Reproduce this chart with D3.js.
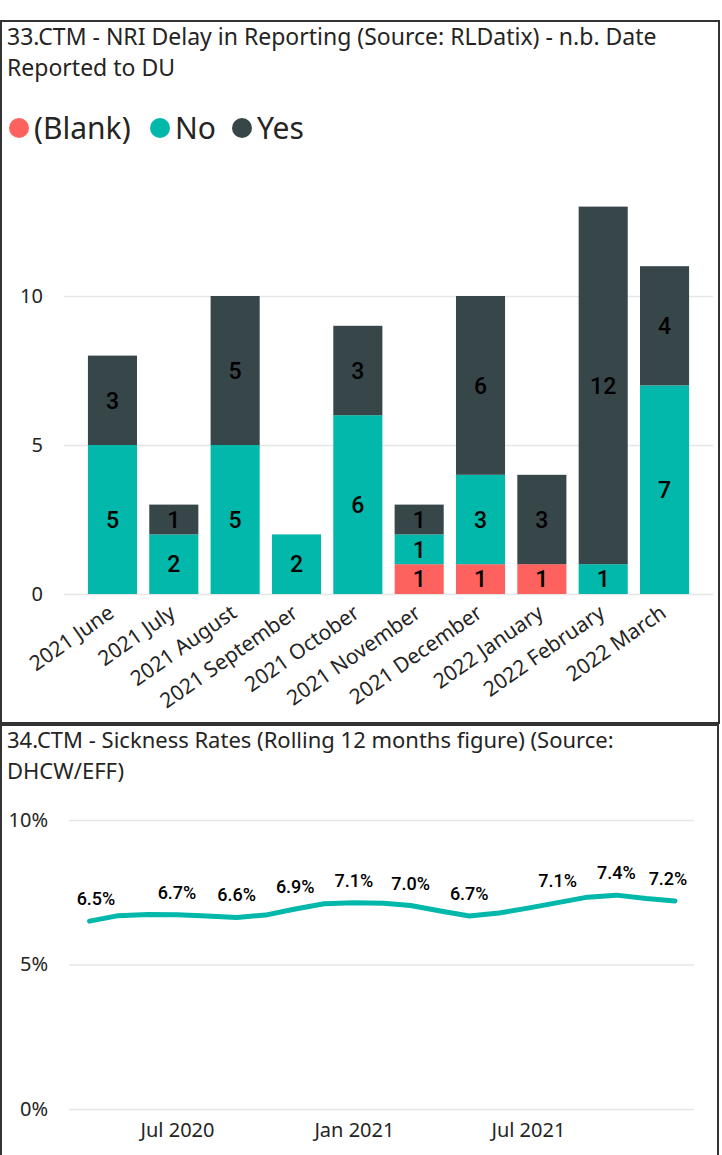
<!DOCTYPE html>
<html>
<head>
<meta charset="utf-8">
<script src="https://cdn.jsdelivr.net/npm/d3@7"></script>
<style>
body { margin: 0; background: #fff; }
text { font-family: "Noto Sans", sans-serif; }
</style>
</head>
<body>
<div id="graph"></div>
<script>
// bar chart data (33.CTM)
var months = ["2021 June", "2021 July", "2021 August", "2021 September", "2021 October",
  "2021 November", "2021 December", "2022 January", "2022 February", "2022 March"];
var blankVals = [0, 0, 0, 0, 0, 1, 1, 1, 0, 0];
var noVals = [5, 2, 5, 2, 6, 1, 3, 0, 1, 7];
var yesVals = [3, 1, 5, 0, 3, 1, 6, 3, 12, 4];
var seriesNames = ["(Blank)", "No", "Yes"];
var seriesColors = ["#FD625E", "#01B8AA", "#374649"];
var barTicks = [0, 5, 10];

// line chart data (34.CTM)
var sickMonths = ["2020-04", "2020-05", "2020-06", "2020-07", "2020-08", "2020-09", "2020-10",
  "2020-11", "2020-12", "2021-01", "2021-02", "2021-03", "2021-04", "2021-05", "2021-06",
  "2021-07", "2021-08", "2021-09", "2021-10", "2021-11", "2021-12"];
var sickRates = [6.5, 6.69, 6.73, 6.72, 6.68, 6.63, 6.71, 6.92, 7.1, 7.14, 7.12, 7.04, 6.85,
  6.68, 6.78, 6.95, 7.14, 7.33, 7.4, 7.28, 7.2];
var shownLabels = [0, 3, 5, 7, 9, 11, 13, 16, 18, 20];
var lineTicks = [0, 5, 10];

var svg = d3.select("#graph").append("svg")
  .attr("width", 722).attr("height", 1155);

// panel borders
svg.append("rect").attr("x", 1).attr("y", 21).attr("width", 718).attr("height", 702)
  .attr("fill", "none").attr("stroke", "#333").attr("stroke-width", 2);
svg.append("rect").attr("x", 1).attr("y", 725).attr("width", 717).attr("height", 440)
  .attr("fill", "none").attr("stroke", "#333").attr("stroke-width", 2);

// titles
var t1 = svg.append("text").attr("x", 7).attr("y", 45).attr("font-size", 23).attr("fill", "#252423");
t1.append("tspan").attr("x", 7).text("33.CTM - NRI Delay in Reporting (Source: RLDatix) - n.b. Date");
t1.append("tspan").attr("x", 7).attr("dy", 31).text("Reported to DU");

var t2 = svg.append("text").attr("x", 7).attr("y", 748).attr("font-size", 22).attr("fill", "#252423");
t2.append("tspan").attr("x", 7).text("34.CTM - Sickness Rates (Rolling 12 months figure) (Source:");
t2.append("tspan").attr("x", 7).attr("dy", 31).text("DHCW/EFF)");

// legend
var legX = [19, 160, 242];
var leg = svg.selectAll("g.leg").data(seriesNames).enter().append("g").attr("class", "leg")
  .attr("transform", function(d, i) { return "translate(" + legX[i] + ",128)"; });
leg.append("circle").attr("r", 10).attr("fill", function(d, i) { return seriesColors[i]; });
leg.append("text").attr("x", 15).attr("dy", "0.36em").attr("font-size", 30)
  .attr("fill", "#252423").text(function(d) { return d; });

// ---- stacked bars ----
var x = d3.scaleBand().domain(months).range([64, 713]).paddingInner(0.2).paddingOuter(0.39);
var y = d3.scaleLinear().domain([0, 10]).range([594, 296]);

var yAxis = svg.append("g").attr("transform", "translate(64,0)")
  .call(d3.axisLeft(y).tickValues(barTicks).tickSize(-(713 - 64)).tickPadding(21));
yAxis.select(".domain").remove();
yAxis.selectAll("line").attr("stroke", "#e6e6e6").attr("stroke-width", 1.5);
yAxis.selectAll("text").attr("font-size", 20).attr("fill", "#252423")
  .style("font-family", "Noto Sans");

var rows = months.map(function(m, i) {
  return { month: m, "(Blank)": blankVals[i], "No": noVals[i], "Yes": yesVals[i] };
});
var stacked = d3.stack().keys(seriesNames)(rows);

var layers = svg.selectAll("g.layer").data(stacked).enter().append("g").attr("class", "layer")
  .attr("fill", function(d, i) { return seriesColors[i]; });
layers.selectAll("rect").data(function(d) { return d; }).enter().append("rect")
  .attr("x", function(d) { return x(d.data.month); })
  .attr("width", x.bandwidth())
  .attr("y", function(d) { return y(d[1]); })
  .attr("height", function(d) { return y(d[0]) - y(d[1]); });
layers.selectAll("text").data(function(d) { return d.filter(function(s) { return s[1] > s[0]; }); })
  .enter().append("text")
  .attr("x", function(d) { return x(d.data.month) + x.bandwidth() / 2; })
  .attr("y", function(d) { return (y(d[0]) + y(d[1])) / 2; })
  .attr("dy", "0.36em").attr("text-anchor", "middle")
  .attr("font-size", 23).attr("font-weight", 500).attr("fill", "#000")
  .style("font-family", "Roboto")
  .text(function(d) { return d[1] - d[0]; });

var xAxis = svg.append("g").attr("transform", "translate(0,594)")
  .call(d3.axisBottom(x).tickSize(0));
xAxis.select(".domain").remove();
xAxis.selectAll("text").attr("y", 0).attr("dy", 0)
  .attr("transform", "translate(3,22) rotate(-35)")
  .style("text-anchor", "end").attr("font-size", 21).attr("fill", "#252423")
  .style("font-family", "Noto Sans");

// ---- line chart ----
var parse = d3.timeParse("%Y-%m");
var sickDates = sickMonths.map(parse);
var lx = d3.scaleTime().domain([sickDates[0], sickDates[sickDates.length - 1]]).range([89.5, 675]);
var ly = d3.scaleLinear().domain([0, 10]).range([1109, 820]);

var lyAxis = svg.append("g").attr("transform", "translate(69,0)")
  .call(d3.axisLeft(ly).tickValues(lineTicks).tickSize(-(694 - 69)).tickPadding(21)
    .tickFormat(function(d) { return d + "%"; }));
lyAxis.select(".domain").remove();
lyAxis.selectAll("line").attr("stroke", "#e6e6e6").attr("stroke-width", 1.5);
lyAxis.selectAll("text").attr("font-size", 20).attr("fill", "#252423")
  .style("font-family", "Noto Sans");

var lxAxis = svg.append("g").attr("transform", "translate(0,1109)")
  .call(d3.axisBottom(lx).ticks(d3.timeMonth.every(6)).tickSize(0).tickPadding(14)
    .tickFormat(d3.timeFormat("%b %Y")));
lxAxis.select(".domain").remove();
lxAxis.selectAll("text").attr("font-size", 20).attr("fill", "#252423")
  .style("font-family", "Noto Sans");

var line = d3.line()
  .x(function(d, i) { return lx(sickDates[i]); })
  .y(function(d) { return ly(d); });
svg.append("path").datum(sickRates).attr("d", line)
  .attr("fill", "none").attr("stroke", "#01B8AA").attr("stroke-width", 5)
  .attr("stroke-linecap", "round").attr("stroke-linejoin", "round");

svg.selectAll("text.dl").data(shownLabels).enter().append("text").attr("class", "dl")
  .attr("x", function(i) { return Math.min(Math.max(lx(sickDates[i]), 96), 668); })
  .attr("y", function(i) { return ly(sickRates[i]) - 16; })
  .attr("text-anchor", "middle").attr("font-size", 18).attr("font-weight", 500).attr("fill", "#000")
  .style("font-family", "Roboto")
  .text(function(i) { return sickRates[i].toFixed(1) + "%"; });
</script>
</body>
</html>
